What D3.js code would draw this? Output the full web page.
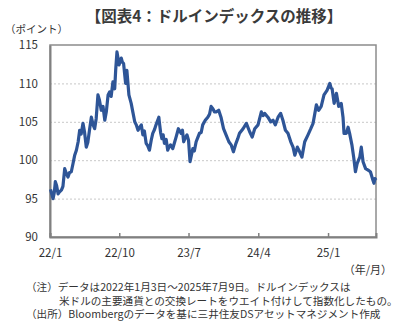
<!DOCTYPE html>
<html><head><meta charset="utf-8">
<script src="https://cdn.jsdelivr.net/npm/d3@7"></script>
<style>
body{margin:0;background:#fff;}
text{font-family:"Noto Sans CJK JP","Noto Sans",sans-serif;}
</style></head>
<body><svg id="c" width="412" height="333"></svg>
<script>
const title = "【図表4：ドルインデックスの推移】";
const yUnit = "（ポイント）";
const xUnit = "（年/月）";
const notes = [
  "（注）データは2022年1月3日～2025年7月9日。ドルインデックスは",
  "米ドルの主要通貨との交換レートをウエイト付けして指数化したもの。",
  "（出所）Bloombergのデータを基に三井住友DSアセットマネジメント作成"
];
const xTickDates = ["2022-01-01","2022-10-01","2023-07-01","2024-04-01","2025-01-01"];
const xTickLabels = ["22/1","22/10","23/7","24/4","25/1"];
const yTicks = [90,95,100,105,110,115];
const dates = [
"2022-01-03","2022-01-08","2022-01-13","2022-01-18","2022-01-22","2022-01-27","2022-02-02","2022-02-08","2022-02-15","2022-02-21","2022-02-28","2022-03-06","2022-03-13","2022-03-19","2022-03-26","2022-04-02","2022-04-08","2022-04-15","2022-04-22","2022-04-28","2022-05-04","2022-05-11","2022-05-17","2022-05-24","2022-05-30","2022-06-06","2022-06-13","2022-06-20","2022-06-26","2022-07-02","2022-07-09","2022-07-15","2022-07-22","2022-07-29","2022-08-05","2022-08-11","2022-08-18","2022-08-24","2022-08-30","2022-09-06","2022-09-13","2022-09-17","2022-09-22","2022-09-26","2022-09-30","2022-10-05","2022-10-09","2022-10-13","2022-10-18","2022-10-26","2022-10-31","2022-11-08","2022-11-17","2022-11-24","2022-12-01","2022-12-07","2022-12-14","2022-12-21","2022-12-27","2023-01-02","2023-01-08","2023-01-15","2023-01-21","2023-01-28","2023-02-04","2023-02-10","2023-02-17","2023-02-23","2023-03-06","2023-03-08","2023-03-13","2023-03-18","2023-03-23","2023-03-28","2023-04-04","2023-04-10","2023-04-15","2023-04-21","2023-04-30","2023-05-06","2023-05-13","2023-05-22","2023-06-02","2023-06-07","2023-06-12","2023-06-18","2023-06-25","2023-07-01","2023-07-07","2023-07-12","2023-07-18","2023-07-24","2023-07-31","2023-08-06","2023-08-13","2023-08-20","2023-08-26","2023-09-05","2023-09-15","2023-09-22","2023-09-28","2023-10-05","2023-10-11","2023-10-18","2023-10-28","2023-11-06","2023-11-16","2023-11-26","2023-12-07","2023-12-16","2023-12-25","2024-01-04","2024-01-11","2024-01-18","2024-02-01","2024-02-14","2024-02-27","2024-03-08","2024-03-18","2024-03-31","2024-04-13","2024-04-20","2024-04-26","2024-05-09","2024-05-20","2024-05-29","2024-06-07","2024-06-18","2024-06-28","2024-07-07","2024-07-17","2024-07-27","2024-08-07","2024-08-16","2024-08-23","2024-09-02","2024-09-11","2024-09-20","2024-10-01","2024-10-14","2024-10-25","2024-11-03","2024-11-16","2024-11-25","2024-12-05","2024-12-16","2024-12-28","2025-01-08","2025-01-13","2025-01-17","2025-01-25","2025-02-03","2025-02-12","2025-02-22","2025-03-01","2025-03-05","2025-03-14","2025-03-21","2025-03-27","2025-04-05","2025-04-12","2025-04-19","2025-04-26","2025-05-06","2025-05-12","2025-05-19","2025-05-29","2025-06-08","2025-06-17","2025-06-25","2025-07-01","2025-07-05","2025-07-09"
];
const values = [
96.2,95.6,95.0,95.8,97.2,96.7,95.6,95.9,96.1,96.6,98.9,98.3,97.8,98.4,98.5,99.6,100.6,101.3,102.4,103.9,103.4,104.8,103.7,101.7,102.3,104.0,105.6,104.6,104.1,105.4,108.5,107.8,106.5,107.0,105.2,106.3,108.5,108.9,108.3,110.2,109.3,111.8,114.1,113.3,112.4,112.9,113.3,112.8,112.6,110.0,111.7,108.5,107.4,106.2,105.0,104.6,103.9,104.3,104.6,103.3,103.8,102.2,101.9,101.3,102.6,103.5,104.0,104.6,105.6,105.0,103.6,102.8,103.3,102.2,102.7,101.3,101.7,102.0,101.5,102.2,103.0,104.1,103.5,103.9,102.4,102.9,103.3,102.6,99.8,100.6,101.5,101.2,102.4,102.9,103.5,103.6,104.6,105.2,105.6,106.0,107.0,106.7,106.3,106.3,106.5,105.6,104.1,103.3,102.4,102.0,101.1,102.2,102.8,103.5,104.1,104.8,103.7,103.0,104.1,104.6,106.3,105.8,106.1,105.6,105.0,105.2,104.6,105.6,106.1,105.2,103.9,103.5,102.4,101.7,100.65,101.7,101.1,100.4,102.4,103.3,104.1,104.8,107.2,106.5,107.0,108.5,109.1,110.0,109.4,109.3,107.4,108.7,107.0,107.4,105.6,103.5,103.5,104.3,103.5,102.0,100.4,98.5,99.6,100.4,101.7,99.8,98.9,98.7,98.5,97.6,97.0,97.6,97.4
];

const parse = d3.timeParse("%Y-%m-%d");
const data = dates.map((d,i)=>({date:parse(d), v:values[i]}));
const svg = d3.select("#c");
const L=50, R=376, T=45, B=237;
const x = d3.scaleTime().domain([parse("2022-01-01"), parse("2025-07-09")]).range([L,R]);
const y = d3.scaleLinear().domain([90,115]).range([B,T]);
const txt = "#333";
const mixFont = "'Liberation Sans','Noto Sans CJK JP',sans-serif";

// title
svg.append("text").attr("x",214).attr("y",22).attr("text-anchor","middle")
  .attr("font-size",15.5).attr("font-weight","bold").attr("fill","#3a3a3a").text(title);
svg.append("text").attr("x",5).attr("y",33).attr("font-size",10.5).attr("fill",txt).text(yUnit);

// grid
const grid = svg.append("g").attr("transform",`translate(${L},0)`)
  .call(d3.axisLeft(y).tickValues(yTicks.filter(t=>t>90&&t<115)).tickSize(-(R-L)).tickFormat(""));
grid.select(".domain").remove();
grid.selectAll("line").attr("stroke","#c8c8c8").attr("stroke-width",1).attr("stroke-dasharray","2,2");

// frame
svg.append("rect").attr("x",L).attr("y",T).attr("width",R-L).attr("height",B-T)
  .attr("fill","none").attr("stroke","#8c8c8c").attr("stroke-width",1.5);

// y axis
const ya = svg.append("g").attr("transform",`translate(${L},0)`)
  .call(d3.axisLeft(y).tickValues(yTicks).tickSize(0).tickPadding(12));
ya.select(".domain").attr("stroke","#808080").attr("stroke-width",2);
ya.selectAll("text").attr("fill",txt).attr("font-family","'DejaVu Sans','Noto Sans CJK JP',sans-serif").attr("font-size",11.5);

// x axis
const xa = svg.append("g").attr("transform",`translate(0,${B})`)
  .call(d3.axisBottom(x).tickValues(xTickDates.map(parse)).tickSize(-4).tickPadding(12)
    .tickFormat((d,i)=>xTickLabels[i]));
xa.select(".domain").attr("stroke","#808080").attr("stroke-width",2);
xa.selectAll("line").attr("stroke","#808080").attr("stroke-width",1.5);
xa.selectAll("text").attr("fill",txt).attr("font-family","'DejaVu Sans','Noto Sans CJK JP',sans-serif").attr("font-size",11.5);

// line
svg.append("path").datum(data)
  .attr("d", d3.line().x(d=>x(d.date)).y(d=>y(d.v)))
  .attr("fill","none").attr("stroke","#2E5597").attr("stroke-width",3.2).attr("stroke-linejoin","round");

svg.append("text").attr("x",392).attr("y",274).attr("text-anchor","end").attr("font-size",11).attr("fill",txt).text(xUnit);
const notePos = [[26,291],[59,304.5],[26,318]];
notes.forEach((n,i)=>svg.append("text").attr("x",notePos[i][0]).attr("y",notePos[i][1])
  .attr("font-family",mixFont).attr("font-size",10.6).attr("fill",txt).text(n));
</script></body></html>
